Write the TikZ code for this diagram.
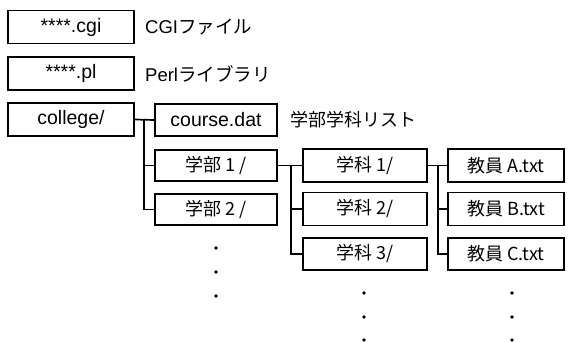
\documentclass[tikz,border=0pt]{standalone}
\usepackage{fontspec}
\setmainfont{Liberation Sans}
\newfontfamily\jp{Noto Sans CJK JP}
\begin{document}
\begin{tikzpicture}[x=1pt,y=-1pt,
  fbox/.style={draw, line width=1.7pt, minimum height=33pt, inner sep=0pt, font=\fontsize{19.5}{21}\selectfont},
  jbox/.style={fbox, font=\jp\fontsize{18}{20}\selectfont},
  lbl/.style={anchor=west, inner sep=0pt, font=\fontsize{18.5}{20}\selectfont},
  conn/.style={line width=1.7pt},
  dotc/.style={fill, circle, inner sep=0pt, minimum size=3.6pt}]
\useasboundingbox (0,0) rectangle (572,342);
% left column
\node[fbox, minimum width=126pt] (cgi) at (71,27) {****.cgi};
\node[fbox, minimum width=126pt] (pl) at (71,73.5) {****.pl};
\node[fbox, minimum width=126pt] (col) at (71,119.5) {college/};
\node[lbl] (cgil) at (145,27) {CGI{\jp ファイル}};
\node[lbl] (pll) at (145,73.5) {Perl{\jp ライブラリ}};
% second column
\node[fbox, minimum width=122pt, minimum height=32pt] (course) at (216,120) {course.dat};
\node[lbl, font=\jp\fontsize{18}{20}\selectfont] (coursel) at (290,120) {学部学科リスト};
\node[jbox, minimum width=122pt, minimum height=31pt] (bu1) at (216,165.5) {学部 1 /};
\node[jbox, minimum width=122pt, minimum height=31pt] (bu2) at (216,209.5) {学部 2 /};
% third column
\node[jbox, minimum width=124pt] (ka1) at (365,165.5) {学科 1/};
\node[jbox, minimum width=124pt] (ka2) at (365,209) {学科 2/};
\node[jbox, minimum width=124pt, minimum height=32pt] (ka3) at (365,254) {学科 3/};
% fourth column
\node[jbox, minimum width=116pt] (kyA) at (506,165.5) {教員 A.txt};
\node[jbox, minimum width=116pt] (kyB) at (506,209) {教員 B.txt};
\node[jbox, minimum width=116pt, minimum height=32pt] (kyC) at (506,254) {教員 C.txt};
% connectors
\coordinate (j1) at (144,120);
\draw[conn] (col.east) -- (course.west);
\draw[conn] (j1) |- (bu2.west);
\draw[conn] (j1 |- bu1.west) -- (bu1.west);
\coordinate (j2) at (291,165.5);
\draw[conn] (bu1.east) -- (ka1.west);
\draw[conn] (j2) |- (ka3.west);
\draw[conn] (j2 |- ka2.west) -- (ka2.west);
\coordinate (j3) at (438,165.5);
\draw[conn] (ka1.east) -- (kyA.west);
\draw[conn] (j3) |- (kyC.west);
\draw[conn] (j3 |- kyB.west) -- (kyB.west);
% dots
\foreach \y [count=\i] in {248,272,296} \node[dotc] (da\i) at (216,\y) {};
\foreach \y [count=\i] in {293,317,340} {
  \node[dotc] (db\i) at (364,\y) {};
  \node[dotc] (dc\i) at (512,\y) {};
}
\end{tikzpicture}
\end{document}
